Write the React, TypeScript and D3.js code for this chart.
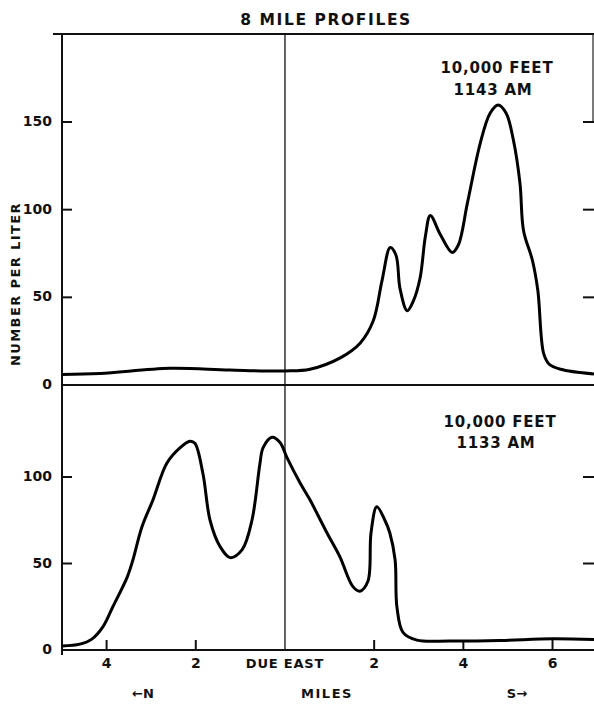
import React from "react";
import * as d3 from "d3";

// miles from due east (north negative), number per liter
const topMiles = [-5, -4.15, -2.58, -1.24, 0, 0.56, 1.24, 1.69, 1.98, 2.18, 2.36, 2.49, 2.58, 2.74, 2.88, 3.03, 3.15, 3.26, 3.48, 3.75, 3.89, 4.09, 4.38, 4.6, 4.78, 4.96, 5.12, 5.27, 5.35, 5.55, 5.67, 5.8, 5.92, 6.18, 6.93];
const topValues = [6, 6.5, 9.5, 8.5, 8, 9, 15.5, 24, 36.6, 60, 78.4, 74, 55, 42.4, 48, 61, 85, 96.7, 86, 75.6, 80, 103.6, 138, 155, 159.7, 155, 140, 115, 88, 71, 54, 18, 12, 9, 6.3];

const bottomMiles = [-5, -4.6, -4.33, -4.08, -3.86, -3.54, -3.41, -3.21, -2.96, -2.65, -2.35, -2.13, -2.02, -1.84, -1.68, -1.46, -1.23, -0.96, -0.74, -0.56, -0.49, -0.29, -0.11, 0.04, 0.34, 0.56, 0.94, 1.23, 1.52, 1.68, 1.86, 1.93, 2.06, 2.24, 2.35, 2.47, 2.51, 2.65, 2.96, 3.7, 4.82, 6.0, 6.93];
const bottomValues = [2.3, 3.4, 6.3, 13.5, 25, 42, 52, 71, 86.8, 108, 117, 120.7, 119.5, 102, 75, 60, 53.4, 58, 75, 108, 117, 123, 120, 111.5, 96.5, 86.8, 67.8, 54, 36.8, 34, 39.7, 67.8, 82.8, 75, 67.8, 52, 25, 10, 5.7, 5.2, 5.5, 6.5, 6];

const xTicks = [-4, -2, 2, 4, 6];
const xTickLabels = ["4", "2", "2", "4", "6"];
const topYTicks = [50, 100, 150];
const bottomYTicks = [50, 100];

const FONT = "DejaVu Sans";

export default function App() {
  const width = 594;
  const height = 704;
  const left = 62;
  const right = 594;
  const top = 34;

  const x = d3.scaleLinear().domain([-5, 6.93]).range([left, right]);
  const yTop = d3.scaleLinear().domain([0, 150]).range([385, 122]);
  const yBot = d3.scaleLinear().domain([0, 100]).range([650, 477]);

  const topLine = d3
    .line<number>()
    .x((d, i) => x(topMiles[i]))
    .y((d) => yTop(d))
    .curve(d3.curveCatmullRom.alpha(0.5));

  const bottomLine = d3
    .line<number>()
    .x((d, i) => x(bottomMiles[i]))
    .y((d) => yBot(d))
    .curve(d3.curveCatmullRom.alpha(0.5));

  const textStyle = { fontFamily: FONT, fontWeight: "bold" as const, fill: "#111" };

  return (
    <svg
      width={width}
      height={height}
      style={{ position: "absolute", left: 0, top: 0, background: "#fff" }}
    >
      {/* title */}
      <text x={326} y={20} textAnchor="middle" dominantBaseline="middle" fontSize={15.5} letterSpacing={1.6} {...textStyle}>
        8 MILE PROFILES
      </text>

      {/* frame */}
      <line x1={53} x2={right} y1={top} y2={top} stroke="#111" strokeWidth={2} />
      <line x1={left} x2={left} y1={top} y2={655} stroke="#111" strokeWidth={2} />
      <line x1={right - 1} x2={right - 1} y1={top} y2={yTop(150)} stroke="#222" strokeWidth={1.2} />
      <line x1={left} x2={right} y1={yTop(0)} y2={yTop(0)} stroke="#111" strokeWidth={2} />
      <line x1={left} x2={right} y1={yBot(0)} y2={yBot(0)} stroke="#111" strokeWidth={2} />

      {/* due east line */}
      <line x1={x(0)} x2={x(0)} y1={top} y2={yBot(0)} stroke="#111" strokeWidth={1.3} />

      {/* top panel y ticks */}
      {topYTicks.map((t) => (
        <g key={"tt" + t}>
          <line x1={left} x2={left + 10} y1={yTop(t)} y2={yTop(t)} stroke="#111" strokeWidth={2} />
          <line x1={right - 11} x2={right} y1={yTop(t)} y2={yTop(t)} stroke="#111" strokeWidth={2} />
          <text x={52} y={yTop(t)} textAnchor="end" dominantBaseline="middle" fontSize={14} {...textStyle}>
            {t}
          </text>
        </g>
      ))}
      <text x={52} y={yTop(0)} textAnchor="end" dominantBaseline="middle" fontSize={14} {...textStyle}>
        0
      </text>

      {/* bottom panel y ticks */}
      {bottomYTicks.map((t) => (
        <g key={"bt" + t}>
          <line x1={left} x2={left + 10} y1={yBot(t)} y2={yBot(t)} stroke="#111" strokeWidth={2} />
          <line x1={right - 11} x2={right} y1={yBot(t)} y2={yBot(t)} stroke="#111" strokeWidth={2} />
          <text x={52} y={yBot(t)} textAnchor="end" dominantBaseline="middle" fontSize={14} {...textStyle}>
            {t}
          </text>
        </g>
      ))}
      <text x={52} y={yBot(0)} textAnchor="end" dominantBaseline="middle" fontSize={14} {...textStyle}>
        0
      </text>

      {/* y label */}
      <text
        transform={`translate(16,284) rotate(-90)`}
        textAnchor="middle"
        dominantBaseline="middle"
        fontSize={13}
        letterSpacing={1.4}
        {...textStyle}
      >
        NUMBER PER LITER
      </text>

      {/* x ticks */}
      {xTicks.map((t, i) => (
        <g key={"xt" + t}>
          <line x1={x(t)} x2={x(t)} y1={yBot(0)} y2={yBot(0) - 10} stroke="#111" strokeWidth={2} />
          <text x={x(t)} y={664} textAnchor="middle" dominantBaseline="middle" fontSize={14} {...textStyle}>
            {xTickLabels[i]}
          </text>
        </g>
      ))}
      <text x={x(0)} y={664} textAnchor="middle" dominantBaseline="middle" fontSize={13} letterSpacing={0.8} {...textStyle}>
        DUE EAST
      </text>

      {/* x labels */}
      <text x={143} y={694} textAnchor="middle" dominantBaseline="middle" fontSize={13} {...textStyle}>
        ←N
      </text>
      <text x={327} y={694} textAnchor="middle" dominantBaseline="middle" fontSize={13} letterSpacing={1.5} {...textStyle}>
        MILES
      </text>
      <text x={517} y={694} textAnchor="middle" dominantBaseline="middle" fontSize={13} {...textStyle}>
        S→
      </text>

      {/* annotations */}
      <text x={497} y={68} textAnchor="middle" dominantBaseline="middle" fontSize={15} letterSpacing={0.8} {...textStyle}>
        10,000 FEET
      </text>
      <text x={493} y={90} textAnchor="middle" dominantBaseline="middle" fontSize={15} letterSpacing={0.8} {...textStyle}>
        1143 AM
      </text>
      <text x={500} y={422} textAnchor="middle" dominantBaseline="middle" fontSize={15} letterSpacing={0.8} {...textStyle}>
        10,000 FEET
      </text>
      <text x={496} y={443} textAnchor="middle" dominantBaseline="middle" fontSize={15} letterSpacing={0.8} {...textStyle}>
        1133 AM
      </text>

      {/* profiles */}
      <path d={topLine(topValues) || ""} fill="none" stroke="#000" strokeWidth={3} strokeLinejoin="round" />
      <path d={bottomLine(bottomValues) || ""} fill="none" stroke="#000" strokeWidth={3} strokeLinejoin="round" />
    </svg>
  );
}
